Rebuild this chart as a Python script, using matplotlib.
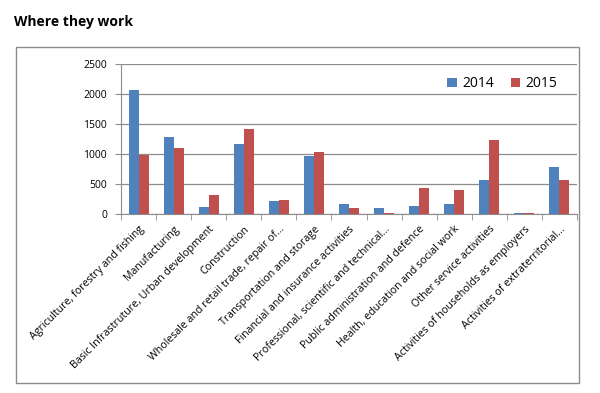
import numpy as np
import matplotlib.pyplot as plt
from matplotlib.patches import Rectangle

# Chart data
categories = [
    "Agriculture, forestry and fishing",
    "Manufacturing",
    "Basic Infrastruture, Urban development",
    "Construction",
    "Wholesale and retail trade, repair of...",
    "Transportation and storage",
    "Financial and insurance activities",
    "Professional, scientific and technical...",
    "Public administration and defence",
    "Health, education and social work",
    "Other service activities",
    "Activities of households as employers",
    "Activities of extraterritorial...",
]
values_2014 = [2070, 1290, 110, 1160, 220, 960, 165, 105, 140, 165, 570, 15, 790]
values_2015 = [975, 1100, 320, 1410, 240, 1040, 100, 20, 430, 400, 1230, 20, 570]
series_labels = ["2014", "2015"]
y_ticks = [0, 500, 1000, 1500, 2000, 2500]

plt.rcParams['font.family'] = ['Open Sans', 'DejaVu Sans']

fig = plt.figure(figsize=(6, 3.93), dpi=100)

# Outer chart frame
fig.patches.append(Rectangle((0.027, 0.025), 0.938, 0.855, transform=fig.transFigure,
                             fill=False, edgecolor='#8c8c8c', linewidth=1.0))
fig.text(0.023, 0.945, "Where they work", fontsize=10, fontweight='bold', va='center')

ax = fig.add_axes([0.2017, 0.4555, 0.76, 0.3817])
x = np.arange(len(categories))
w = 0.285
ax.bar(x - w / 2, values_2014, w, color='#4F81BD', label=series_labels[0], zorder=3)
ax.bar(x + w / 2, values_2015, w, color='#C0504D', label=series_labels[1], zorder=3)

ax.set_xlim(-0.5, len(categories) - 0.5)
ax.set_ylim(0, 2500)
ax.set_yticks(y_ticks)
ax.set_yticklabels([str(t) for t in y_ticks], fontsize=7.5)
ax.yaxis.grid(True, color='#8c8c8c', linewidth=0.9, zorder=0)

ax.set_xticks(x)
ax.set_xticklabels(categories, rotation=45, ha='right', rotation_mode='anchor', fontsize=7.7)
ax.tick_params(axis='x', length=0, pad=7)
ax.set_xticks(np.arange(len(categories) + 1) - 0.5, minor=True)
ax.tick_params(axis='x', which='minor', length=4, color='#8c8c8c')
ax.tick_params(axis='y', length=4, color='#8c8c8c', pad=6)

for s in ['top', 'right']:
    ax.spines[s].set_visible(False)
for s in ['left', 'bottom']:
    ax.spines[s].set_color('#8c8c8c')

ax.legend(loc='upper right', ncol=2, frameon=False, fontsize=10, handlelength=0.7,
          handleheight=0.7, columnspacing=1.2, handletextpad=0.4,
          bbox_to_anchor=(0.985, 1.0))

fig.savefig("out.png", dpi=100)
